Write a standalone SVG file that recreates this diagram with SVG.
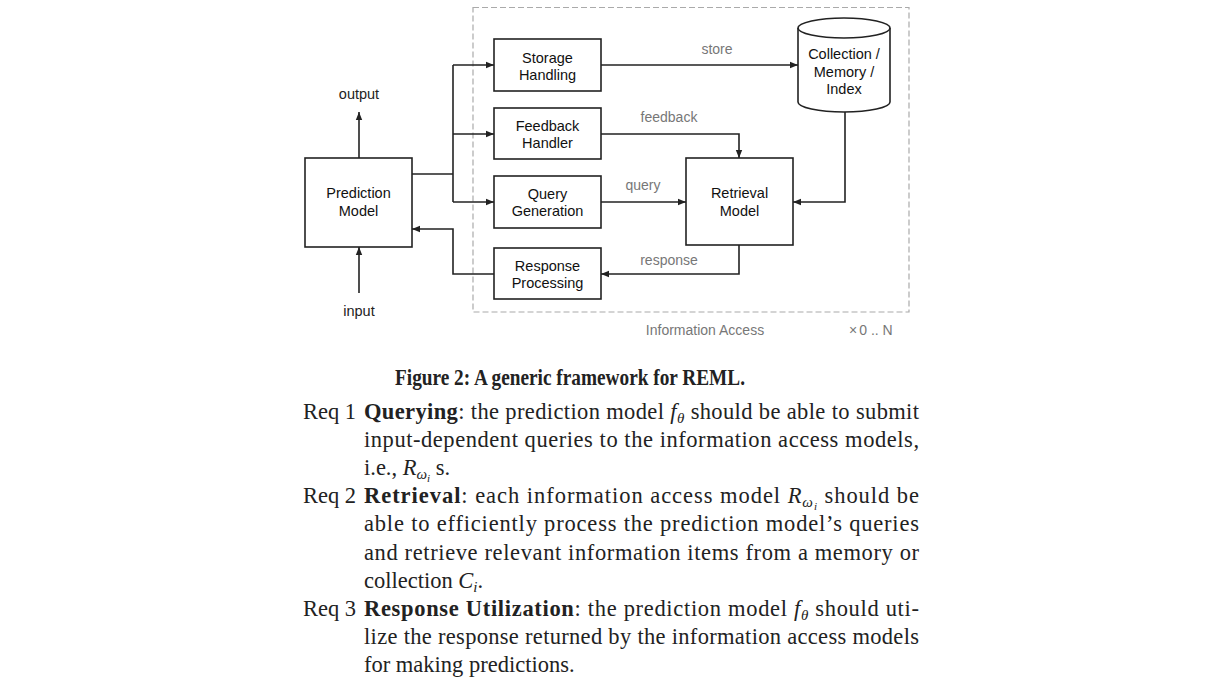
<svg xmlns="http://www.w3.org/2000/svg" width="1221" height="684" viewBox="0 0 1221 684">
<defs>
<marker id="ah" viewBox="0 0 10 10" refX="10" refY="5" markerWidth="8" markerHeight="8" markerUnits="userSpaceOnUse" orient="auto">
<path d="M0,1 L10,5 L0,9 z" fill="#222"/>
</marker>
<style>
.box{fill:#fff;stroke:#222;stroke-width:1.6}
.nt{font-family:"Liberation Sans",Arial,sans-serif;font-size:14.5px;fill:#111;text-anchor:middle}
.lb{font-family:"Liberation Sans",Arial,sans-serif;font-size:14px;fill:#777;text-anchor:middle}
.io{font-family:"Liberation Sans",Arial,sans-serif;font-size:14.5px;fill:#222;text-anchor:middle}
.cn{fill:none;stroke:#222;stroke-width:1.6}
.ca{marker-end:url(#ah)}
.body{font-family:"Liberation Serif","Times New Roman",serif;font-size:22.5px;fill:#222}
.it{font-style:italic}
.b{font-weight:bold}
</style>
</defs>
<rect width="1221" height="684" fill="#fff"/>

<rect id="info-access" x="473" y="7.5" width="436" height="304.5" fill="none" stroke="#aaa" stroke-width="1.2" stroke-dasharray="6,3"/>

<g id="connectors">
<path class="cn" d="M412,174 H453"/>
<path class="cn" d="M453,65 V202"/>
<path class="cn ca" d="M453,65 H494"/>
<path class="cn ca" d="M453,134 H494"/>
<path class="cn ca" d="M453,202 H494"/>
<path class="cn ca" d="M494,274 H453 V229 H412"/>
<path class="cn ca" d="M601,65 H798"/>
<path class="cn ca" d="M601,134 H739 V158"/>
<path class="cn ca" d="M601,202 H686"/>
<path class="cn ca" d="M845,112 V202 H793"/>
<path class="cn ca" d="M739,245 V274 H601"/>
<path class="cn ca" d="M359,158 V112"/>
<path class="cn ca" d="M359,293 V247"/>
<text class="lb" x="717" y="54">store</text>
<text class="lb" x="669" y="122">feedback</text>
<text class="lb" x="643" y="190">query</text>
<text class="lb" x="669" y="265">response</text>
<text class="io" x="359" y="99">output</text>
<text class="io" x="359" y="316">input</text>
</g>

<g id="prediction-model">
<rect class="box" x="305" y="158" width="107" height="89"/>
<text class="nt" x="358.5" y="198">Prediction</text>
<text class="nt" x="358.5" y="216">Model</text>
</g>
<g id="storage-handling">
<rect class="box" x="494" y="39" width="107" height="52"/>
<text class="nt" x="547.5" y="63">Storage</text>
<text class="nt" x="547.5" y="80">Handling</text>
</g>
<g id="feedback-handler">
<rect class="box" x="494" y="108" width="107" height="51"/>
<text class="nt" x="547.5" y="131">Feedback</text>
<text class="nt" x="547.5" y="148">Handler</text>
</g>
<g id="query-generation">
<rect class="box" x="494" y="176" width="107" height="52"/>
<text class="nt" x="547.5" y="199">Query</text>
<text class="nt" x="547.5" y="216">Generation</text>
</g>
<g id="response-processing">
<rect class="box" x="494" y="248" width="107" height="51"/>
<text class="nt" x="547.5" y="271">Response</text>
<text class="nt" x="547.5" y="288">Processing</text>
</g>
<g id="retrieval-model">
<rect class="box" x="686" y="158" width="107" height="87"/>
<text class="nt" x="739.5" y="198">Retrieval</text>
<text class="nt" x="739.5" y="216">Model</text>
</g>
<g id="collection">
<path class="box" d="M798,28 V102 A46,10 0 0 0 890,102 V28 A46,10 0 0 0 798,28 Z"/>
<path fill="none" stroke="#222" stroke-width="1.6" d="M798,28 A46,10 0 0 0 890,28"/>
<text class="nt" x="844" y="59">Collection /</text>
<text class="nt" x="844" y="77">Memory /</text>
<text class="nt" x="844" y="94">Index</text>
</g>

<g id="footer-labels">
<text class="lb" x="705" y="335">Information Access</text>
<text class="lb" x="853" y="335" font-size="8">×</text>
<text class="lb" x="876" y="335">0 .. N</text>
</g>

<g id="caption">
<text class="body b" x="570" y="385" text-anchor="middle" font-size="21" textLength="350" lengthAdjust="spacingAndGlyphs">Figure 2: A generic framework for REML.</text>
</g>

<g id="requirements">
<text class="body" x="303" y="419">Req 1</text>
<text class="body" x="364" y="419" textLength="555" lengthAdjust="spacing"><tspan class="b">Querying</tspan>: the prediction model <tspan class="it">f</tspan><tspan class="it" font-size="15" dy="4">θ</tspan><tspan dy="-4"> should be able to submit</tspan></text>
<text class="body" x="364" y="447" textLength="555" lengthAdjust="spacing">input-dependent queries to the information access models,</text>
<text class="body" x="364" y="475">i.e., <tspan class="it">R</tspan><tspan class="it" font-size="15" dy="4">ω</tspan><tspan class="it" font-size="11" dy="3">i</tspan><tspan dy="-7"> s.</tspan></text>

<text class="body" x="303" y="503">Req 2</text>
<text class="body" x="364" y="503" textLength="555" lengthAdjust="spacing"><tspan class="b">Retrieval</tspan>: each information access model <tspan class="it">R</tspan><tspan class="it" font-size="15" dy="4">ω</tspan><tspan class="it" font-size="11" dy="3">i</tspan><tspan dy="-7"> should be</tspan></text>
<text class="body" x="364" y="531" textLength="555" lengthAdjust="spacing">able to efficiently process the prediction model’s queries</text>
<text class="body" x="364" y="560" textLength="555" lengthAdjust="spacing">and retrieve relevant information items from a memory or</text>
<text class="body" x="364" y="588">collection <tspan class="it">C</tspan><tspan class="it" font-size="15" dy="4">i</tspan><tspan dy="-4">.</tspan></text>

<text class="body" x="303" y="616">Req 3</text>
<text class="body" x="364" y="616" textLength="555" lengthAdjust="spacing"><tspan class="b">Response Utilization</tspan>: the prediction model <tspan class="it">f</tspan><tspan class="it" font-size="15" dy="4">θ</tspan><tspan dy="-4"> should uti-</tspan></text>
<text class="body" x="364" y="644" textLength="555" lengthAdjust="spacing">lize the response returned by the information access models</text>
<text class="body" x="364" y="672">for making predictions.</text>
</g>
</svg>
